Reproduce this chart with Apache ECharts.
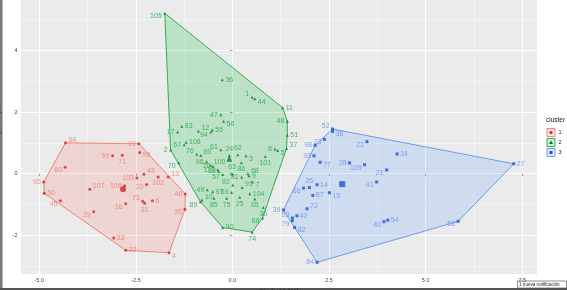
<!DOCTYPE html>
<html>
<head>
<meta charset="utf-8">
<script src="https://cdn.jsdelivr.net/npm/echarts@6/dist/echarts.min.js"></script>
<style>
html, body { margin: 0; padding: 0; background: #fff; }
#main { width: 567px; height: 290px; }
</style>
</head>
<body>
<div id="main"></div>
<script>
// cluster 1
const c1Id = [64, 19, 99, 69, 71, 60, 95, 50, 45, 107, 106, 103, 43, 102, 13, 20, 73, 31, 6, 16, 29, 33, 32, 4, 46, 35];
const c1X = [-4.32, -2.42, -2.40, -3.10, -2.85, -4.33, -4.88, -4.87, -4.45, -3.69, -2.79, -2.47, -2.29, -1.92, -1.66, -2.22, -2.32, -2.27, -2.07, -2.76, -3.59, -3.07, -2.76, -1.64, -1.22, -1.23];
const c1Y = [1.00, 0.97, 0.69, 0.58, 0.60, 0.21, -0.27, -0.64, -0.88, -0.51, -0.39, -0.14, -0.02, -0.11, -0.11, -0.35, -0.90, -0.96, -0.88, -0.98, -1.24, -2.09, -2.49, -2.57, -0.66, -1.16];
// cluster 2
const c2Id = [105, 36, 1, 44, 11, 48, 51, 37, 47, 56, 55, 94, 12, 83, 17, 108, 67, 2, 70, 8, 5, 61, 24, 62, 3, 86, 101, 76, 80, 96, 100, 78, 110, 18, 57, 63, 81, 58, 9, 7, 92, 49, 97, 59, 91, 104, 10, 89, 85, 75, 25, 65, 30, 88, 90, 74];
const c2X = [-1.75, -0.26, 0.51, 0.58, 1.30, 1.42, 1.42, 1.40, -0.30, -0.23, -0.52, -0.56, -0.88, -1.31, -1.42, -1.20, -1.25, -1.60, -1.39, 1.10, 1.17, -0.30, -0.08, 0.14, 0.35, 0.23, 0.85, -0.92, -0.82, -0.67, -0.56, -0.50, -0.38, -0.35, -0.25, -0.01, 0.24, 0.40, 0.43, 0.52, 0.01, -0.65, -0.51, -0.02, 0.25, 0.45, -0.79, -0.83, -0.48, -0.15, 0.19, 0.58, 0.80, 0.78, -0.25, 0.51];
const c2Y = [5.21, 3.05, 2.48, 2.43, 2.14, 1.70, 1.25, 0.82, 1.91, 1.70, 1.42, 1.35, 1.38, 1.54, 1.35, 1.02, 0.94, 0.77, 0.35, 0.80, 0.75, 0.78, 0.59, 0.61, 0.58, 0.35, 0.56, 0.63, 0.59, 0.39, 0.27, 0.23, 0.13, 0.07, -0.03, -0.01, -0.12, 0.00, -0.07, -0.27, -0.37, -0.52, -0.59, -0.61, -0.45, -0.65, -0.86, -0.91, -0.80, -0.80, -0.77, -0.82, -1.10, -1.44, -1.75, -1.90];
// cluster 3
const c3Id = [52, 38, 98, 23, 93, 77, 22, 34, 28, 109, 21, 41, 26, 14, 66, 87, 15, 72, 39, 53, 42, 79, 82, 84, 27, 68, 40, 54];
const c3X = [2.59, 2.59, 2.14, 2.38, 2.11, 2.27, 3.48, 4.26, 3.03, 3.42, 3.99, 3.73, 1.99, 2.19, 1.84, 2.08, 2.51, 1.93, 1.32, 1.55, 1.67, 1.55, 1.61, 2.19, 7.28, 5.84, 3.92, 4.02];
const c3Y = [1.45, 1.37, 0.92, 1.11, 0.58, 0.37, 1.04, 0.64, 0.35, 0.29, 0.12, -0.27, -0.45, -0.36, -0.47, -0.71, -0.62, -1.14, -1.18, -1.44, -1.37, -1.53, -1.75, -2.88, 0.32, -1.55, -1.56, -1.51];
// cluster centres
const centerX = [-2.83, -0.08, 2.84];
const centerY = [-0.51, 0.48, -0.34];

const xTicks = [-5, -2.5, 0, 2.5, 5, 7.5];
const xMinor = [-3.75, -1.25, 1.25, 3.75, 6.25];
const yTicks = [-2, 0, 2, 4];
const yMinor = [-3, -1, 1, 3, 5];
const clusterNames = ['1', '2', '3'];

// where each label sits next to its point
const labelSide = {
  64:'rt',19:'l',99:'rb',69:'l',71:'b',60:'lb',95:'l',50:'r',45:'lb',107:'rt',106:'l',103:'l',43:'rt',102:'b',13:'rt',
  20:'lb',73:'lt',31:'b',6:'r',16:'lb',29:'lb',33:'r',32:'r',4:'rb',46:'l',35:'lb',
  105:'lb',36:'r',1:'lt',44:'rb',11:'r',48:'l',51:'r',37:'rt',47:'l',56:'rb',55:'r',94:'lb',12:'rt',83:'r',17:'l',
  108:'r',67:'l',2:'l',70:'lb',8:'l',5:'rb',61:'lt',24:'t',62:'t',3:'rb',86:'b',101:'b',76:'lt',80:'rt',96:'l',
  100:'rt',78:'l',110:'l',18:'l',57:'lb',63:'t',81:'l',58:'rt',9:'r',7:'rb',92:'lt',49:'l',97:'r',59:'l',91:'rt',
  104:'r',10:'rt',89:'lb',85:'b',75:'b',25:'b',65:'b',30:'b',88:'lb',90:'r',74:'b',
  52:'lt',38:'rb',98:'l',23:'lb',93:'l',77:'rb',22:'lb',34:'r',28:'l',109:'lb',21:'lb',41:'lb',26:'t',14:'r',
  66:'lb',87:'r',15:'rb',72:'rt',39:'l',53:'lt',42:'r',79:'lb',82:'rb',84:'l',27:'r',68:'lb',40:'lb',54:'r'
};
const sides = {
  r: ['right', [0, 0]], l: ['left', [0, 0]], t: ['top', [0, 0]], b: ['bottom', [0, 0]],
  rt: ['right', [0, -3]], rb: ['right', [0, 3]], lt: ['left', [0, -3]], lb: ['left', [0, 3]]
};

const lineCol = ['#F0776B', '#1FA844', '#5F92F0'];
const pointCol = ['#CC2A22', '#0E7A2A', '#1E52D8'];
const fillCol = ['rgba(248,118,109,0.2)', 'rgba(0,186,56,0.2)', 'rgba(97,156,255,0.2)'];
const shapes = ['circle', 'triangle', 'rect'];
const allX = [c1X, c2X, c3X];
const allY = [c1Y, c2Y, c3Y];
const allId = [c1Id, c2Id, c3Id];

function cross(o, a, b) {
  return (a[0] - o[0]) * (b[1] - o[1]) - (a[1] - o[1]) * (b[0] - o[0]);
}
function hull(pts) {
  pts = pts.slice().sort((a, b) => a[0] - b[0] || a[1] - b[1]);
  let lower = [], upper = [];
  for (const p of pts) {
    while (lower.length >= 2 && cross(lower[lower.length - 2], lower[lower.length - 1], p) <= 0) lower.pop();
    lower.push(p);
  }
  for (let i = pts.length - 1; i >= 0; i--) {
    const p = pts[i];
    while (upper.length >= 2 && cross(upper[upper.length - 2], upper[upper.length - 1], p) <= 0) upper.pop();
    upper.push(p);
  }
  upper.pop(); lower.pop();
  return lower.concat(upper);
}

let series = [];
for (let k = 0; k < 3; k++) {
  const xs = allX[k], ys = allY[k];
  series.push({
    type: 'custom', coordinateSystem: 'cartesian2d', silent: true, z: 1,
    data: [[xs[0], ys[0]]],
    renderItem: function (params, api) {
      const pts = hull(xs.map((x, i) => [x, ys[i]])).map(p => api.coord(p));
      return { type: 'polygon', shape: { points: pts }, style: { fill: fillCol[k], stroke: lineCol[k], lineWidth: 0.9 } };
    }
  });
  series.push({
    type: 'scatter', name: clusterNames[k], symbol: shapes[k], symbolSize: 3, z: 3,
    itemStyle: { color: pointCol[k] },
    label: { show: true, formatter: '{b}', fontSize: 7, fontFamily: 'Liberation Sans', color: lineCol[k], distance: 1.5 },
    data: allId[k].map((id, i) => {
      const s = sides[labelSide[id] || 'r'];
      return { name: String(id), value: [xs[i], ys[i]], label: { position: s[0], offset: s[1] } };
    })
  });
  series.push({
    type: 'scatter', symbol: shapes[k], symbolSize: 6, z: 4,
    itemStyle: { color: pointCol[k] },
    data: [[centerX[k], centerY[k]]]
  });
}

// legend keys drawn as ggplot style boxes
let legendKeys = [{
  type: 'text', left: 546, top: 117, style: { text: 'cluster', fontSize: 6.5, fill: '#222', fontFamily: 'Liberation Sans' }
}];
const keyTop = [128.5, 138.5, 148.5];
for (let k = 0; k < 3; k++) {
  const t = keyTop[k];
  legendKeys.push({ type: 'rect', shape: { x: 547, y: t, width: 8, height: 8 }, style: { fill: fillCol[k], stroke: lineCol[k], lineWidth: 0.9 } });
  if (k === 0) legendKeys.push({ type: 'circle', shape: { cx: 551, cy: t + 4, r: 1.6 }, style: { fill: pointCol[k] } });
  if (k === 1) legendKeys.push({ type: 'polygon', shape: { points: [[551, t + 2], [549, t + 5.6], [553, t + 5.6]] }, style: { fill: pointCol[k] } });
  if (k === 2) legendKeys.push({ type: 'rect', shape: { x: 549.5, y: t + 2.5, width: 3, height: 3 }, style: { fill: pointCol[k] } });
  legendKeys.push({ type: 'text', left: 558.5, top: t + 1.2, style: { text: clusterNames[k], fontSize: 5.5, fill: '#222', fontFamily: 'Liberation Sans' } });
}

const chart = echarts.init(document.getElementById('main'));
chart.setOption({
  animation: false,
  backgroundColor: '#fff',
  grid: { left: 21, right: 30, top: -12, bottom: 16, show: true, backgroundColor: '#EBEBEB', borderWidth: 0, outerBoundsMode: 'none', containLabel: false },
  xAxis: [{
    type: 'value', min: -5.47, max: 7.88,
    name: 'Dim1 (49.8%)', nameLocation: 'middle', nameGap: 9,
    nameTextStyle: { fontSize: 6.5, color: '#222', fontFamily: 'Liberation Sans' },
    axisLine: { show: false },
    axisTick: { show: true, customValues: xTicks, length: 2.5, lineStyle: { color: '#555', width: 0.6 } },
    axisLabel: { customValues: xTicks, formatter: v => v.toFixed(1), fontSize: 5.5, color: '#444', margin: 3.5, fontFamily: 'Liberation Sans' },
    splitLine: { show: true, lineStyle: { color: '#fff', width: 1.1 } }
  }, {
    type: 'value', min: -5.47, max: 7.88,
    axisLine: { show: false }, axisLabel: { show: false },
    axisTick: { show: false, customValues: xMinor },
    splitLine: { show: true, lineStyle: { color: '#F8F8F8', width: 0.6 } }
  }],
  yAxis: [{
    type: 'value', min: -3.26, max: 6.03,
    name: 'Dim2 (14.7%)', nameLocation: 'middle', nameGap: 9, nameRotate: 90,
    nameTextStyle: { fontSize: 6.5, color: '#222', fontFamily: 'Liberation Sans' },
    axisLine: { show: false },
    axisTick: { show: true, customValues: yTicks, length: 2.5, lineStyle: { color: '#555', width: 0.6 } },
    axisLabel: { customValues: yTicks, fontSize: 5.5, color: '#444', margin: 3.5, fontFamily: 'Liberation Sans' },
    splitLine: { show: true, lineStyle: { color: '#fff', width: 1.1 } }
  }, {
    type: 'value', min: -3.26, max: 6.03,
    axisLine: { show: false }, axisLabel: { show: false },
    axisTick: { show: false, customValues: yMinor },
    splitLine: { show: true, lineStyle: { color: '#F8F8F8', width: 0.6 } }
  }],
  series: series,
  graphic: legendKeys.concat([
    { type: 'rect', shape: { x: 0, y: 0, width: 2.5, height: 290 }, style: { fill: '#777' } },
    { type: 'rect', shape: { x: 0, y: 288, width: 567, height: 2 }, style: { fill: '#555' } },
    { type: 'rect', shape: { x: 517.5, y: 281, width: 49, height: 7 }, style: { fill: '#fff', stroke: '#444', lineWidth: 0.6 } },
    { type: 'text', left: 519, top: 282.3, style: { text: '1 nueva notificación', fontSize: 4.6, fill: '#222', fontFamily: 'Liberation Sans' } }
  ])
});
window.addEventListener('resize', chart.resize);
</script>
</body>
</html>
